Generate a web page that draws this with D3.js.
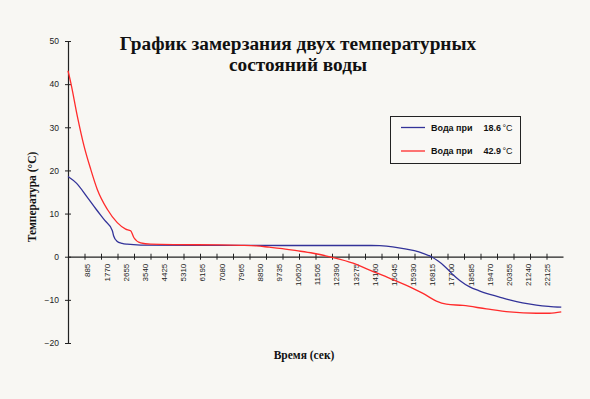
<!DOCTYPE html>
<html>
<head>
<meta charset="utf-8">
<script src="https://cdn.jsdelivr.net/npm/d3@7"></script>
<style>
  body { margin: 0; background: #f8f7f3; }
  svg { display: block; }
  .serif { font-family: "Liberation Serif", "Times New Roman", "DejaVu Serif", serif; font-weight: bold; }
  .sans { font-family: "Liberation Sans", Arial, sans-serif; }
</style>
</head>
<body>
<script>
// time (s) and temperature (°C)
let t_cold = [0, 400, 860, 1300, 1700, 2045, 2110, 2260, 2500, 2730, 3350, 6000, 10000, 14000, 14400, 15000, 15500, 16000, 16400, 16790, 17100, 17330, 17600, 17790, 18100, 18560, 19000, 19330, 19900, 20400, 21000, 21640, 22200, 22790];
let v_cold = [18.6, 17.0, 14.0, 11.0, 8.4, 6.1, 4.8, 3.6, 3.1, 2.9, 2.7, 2.65, 2.6, 2.6, 2.55, 2.3, 1.9, 1.4, 0.8, 0.0, -1.0, -1.9, -3.2, -4.2, -5.5, -7.0, -7.9, -8.5, -9.3, -10.0, -10.7, -11.2, -11.5, -11.7];
let t_hot = [0, 125, 430, 739, 1048, 1353, 1815, 2276, 2664, 2895, 3047, 3357, 3818, 5000, 7000, 8000, 8710, 9300, 9790, 10560, 11330, 12250, 13170, 13940, 14870, 15790, 16400, 17020, 17480, 18250, 19330, 20400, 21640, 22250, 22790];
let v_hot = [43.1, 40.4, 32.6, 25.7, 20.3, 15.6, 11.0, 7.9, 6.4, 6.0, 4.4, 3.2, 2.9, 2.8, 2.75, 2.65, 2.5, 2.2, 1.95, 1.4, 0.8, -0.2, -1.5, -3.1, -5.0, -7.0, -8.5, -10.3, -11.0, -11.3, -12.1, -12.8, -13.1, -13.1, -12.8];

let x_labels = d3.range(1, 26).map(k => k * 885);
let y_ticks = [-20, -10, 0, 10, 20, 30, 40, 50];
let t_max = 22870;

let series = [
  { name: "Вода при", value: "18.6", unit: "°C", t: t_cold, v: v_cold, color: "#333399" },
  { name: "Вода при", value: "42.9", unit: "°C", t: t_hot, v: v_hot, color: "#ff2b2b" }
];

let width = 590, height = 399;
let svg = d3.select("body").append("svg")
  .attr("width", width).attr("height", height);

svg.append("rect").attr("width", width).attr("height", height).attr("fill", "#f8f7f3");

let x = d3.scaleLinear().domain([0, t_max]).range([68, 563]);
let y = d3.scaleLinear().domain([-20, 50]).range([343, 41]);

// y axis
let yax = svg.append("g").attr("transform", "translate(68,0)")
  .call(d3.axisLeft(y).tickValues(y_ticks).tickSize(3).tickSizeOuter(0).tickPadding(6));
yax.select(".domain").attr("stroke", "#222").attr("stroke-width", 1.2);
yax.selectAll(".tick line").attr("x2", 3).attr("x1", -3).attr("stroke", "#222");
yax.selectAll(".tick text").attr("class", "sans").attr("font-family", null).attr("font-size", 8.5).attr("fill", "#222");

// x axis at y = 0: tick marks and labels have different steps
let step = t_max / 30;
let xax = svg.append("g").attr("transform", `translate(0,${y(0)})`)
  .call(d3.axisBottom(x).tickValues(d3.range(1, 30).map(k => k * step)).tickSize(3).tickSizeOuter(0).tickFormat(""));
xax.select(".domain").attr("stroke", "#222").attr("stroke-width", 1.2);
xax.selectAll(".tick line").attr("y1", -3).attr("y2", 3).attr("stroke", "#222");

let xl = svg.append("g").attr("transform", `translate(0,${y(0)})`)
  .call(d3.axisBottom(x).tickValues(x_labels).tickSize(0).tickFormat(d3.format("d")));
xl.attr("font-family", null);
xl.select(".domain").remove();
xl.selectAll(".tick text")
  .attr("class", "sans").attr("font-size", 8).attr("fill", "#222")
  .attr("text-anchor", "end")
  .attr("transform", "rotate(-90)")
  .attr("x", -7).attr("y", 0).attr("dy", "0.35em");

// lines
let line = d3.line().curve(d3.curveMonotoneX);
series.forEach(s => {
  svg.append("path")
    .attr("d", line(s.t.map((t, i) => [x(t), y(s.v[i])])))
    .attr("fill", "none")
    .attr("stroke", s.color)
    .attr("stroke-width", 1.3);
});

// titles
let title = svg.append("text")
  .attr("class", "serif")
  .attr("text-anchor", "middle")
  .attr("font-size", 19.3).attr("fill", "#111");
title.append("tspan").attr("x", 298).attr("y", 50).text("График замерзания двух температурных");
title.append("tspan").attr("x", 298).attr("y", 71).text("состояний воды");

svg.append("text")
  .attr("class", "serif")
  .attr("x", 304).attr("y", 359)
  .attr("text-anchor", "middle")
  .attr("font-size", 11.5).attr("fill", "#111")
  .text("Время (сек)");

svg.append("text")
  .attr("class", "serif")
  .attr("transform", "translate(36,197) rotate(-90)")
  .attr("text-anchor", "middle")
  .attr("font-size", 11.5).attr("fill", "#111")
  .text("Температура (°C)");

// legend
let legend = svg.append("g");
legend.append("rect")
  .attr("x", 390.5).attr("y", 116.5).attr("width", 130).attr("height", 47)
  .attr("fill", "#f9f8f5").attr("stroke", "#222").attr("stroke-width", 1);
series.forEach((s, i) => {
  let ly = 127.5 + i * 23.5;
  legend.append("line")
    .attr("x1", 401).attr("x2", 425).attr("y1", ly).attr("y2", ly)
    .attr("stroke", s.color).attr("stroke-width", 1.3);
  legend.append("text").attr("class", "sans").attr("x", 431).attr("y", ly + 3.3)
    .attr("font-weight", "bold").attr("font-size", 9).attr("fill", "#111")
    .text(s.name);
  legend.append("text").attr("class", "sans").attr("x", 501).attr("y", ly + 3.3)
    .attr("text-anchor", "end")
    .attr("font-weight", "bold").attr("font-size", 9).attr("fill", "#111")
    .text(s.value);
  legend.append("text").attr("class", "sans").attr("x", 502.5).attr("y", ly + 3.3)
    .attr("font-size", 9).attr("fill", "#111")
    .text(s.unit);
});
</script>
</body>
</html>
